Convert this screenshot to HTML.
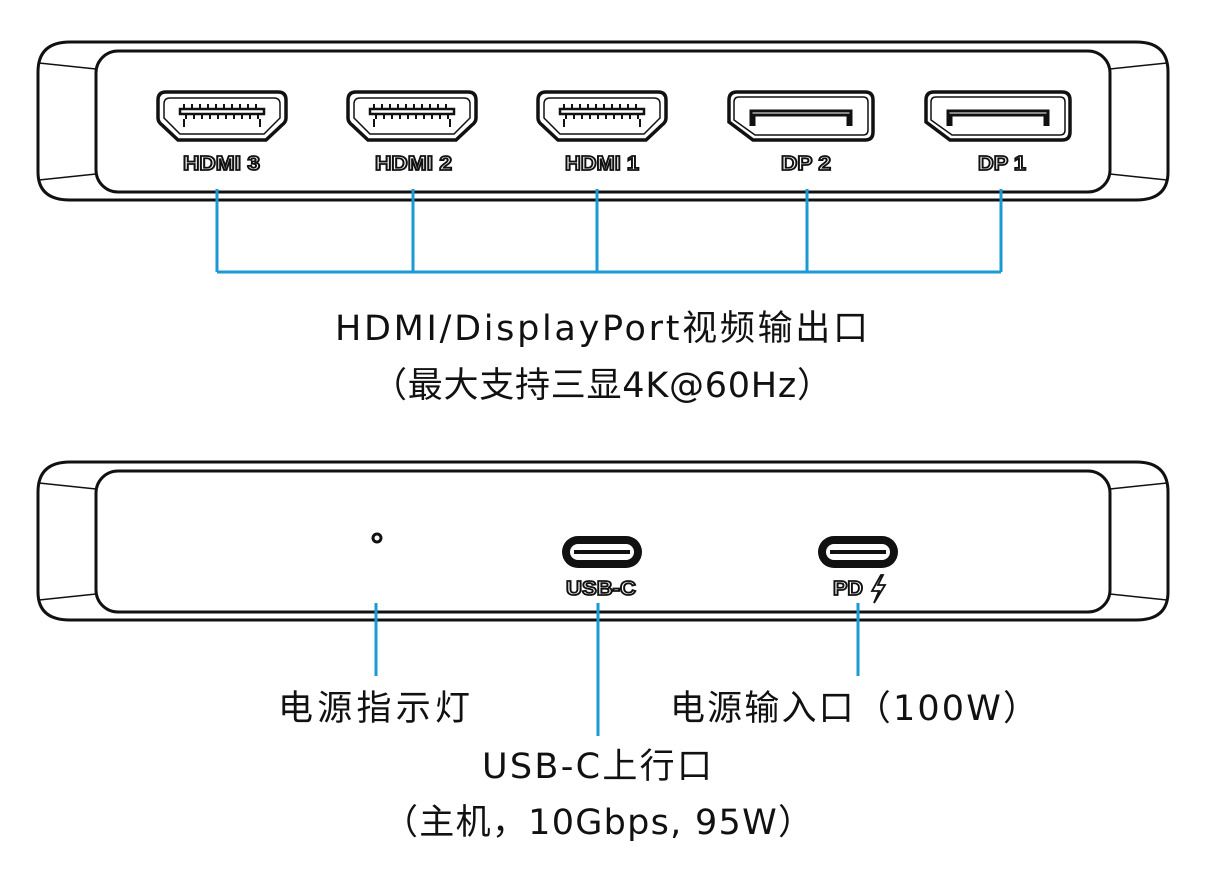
<!DOCTYPE html>
<html><head><meta charset="utf-8"><style>
html,body{margin:0;padding:0;background:#fff}
svg{display:block}
.t{font-family:"DejaVu Sans","Noto Sans CJK SC",sans-serif;fill:#111}
.lb{font-family:"Liberation Sans",sans-serif;font-weight:bold;font-size:20px;fill:#fff;stroke:#111;stroke-width:1.8}
</style></head><body>
<svg width="1208" height="872" viewBox="0 0 1208 872" xmlns="http://www.w3.org/2000/svg">
<defs>
<g id="dev">
  <path d="M70,0 L1136,0 Q1168,0 1168,30 L1168,130 Q1168,158 1136,158 L70,158 Q38,158 38,130 L38,30 Q38,0 70,0 Z" fill="#fff" stroke="#111" stroke-width="3"/>
  <rect x="96" y="9" width="1014" height="141" rx="22" fill="#fff" stroke="#111" stroke-width="3"/>
  <path d="M39,21 L96,27 M39,138 L96,132 M1110,27 L1167,21 M1110,132 L1167,138" stroke="#111" stroke-width="1.5" fill="none"/>
</g>
<g id="hdmi">
  <path d="M-56,-24 L56,-24 Q64,-24 64,-16 L64,2 Q64,6 60,9 L44,24 L-44,24 L-60,9 Q-64,6 -64,2 L-64,-16 Q-64,-24 -56,-24 Z" fill="#fff" stroke="#111" stroke-width="3.5"/>
  <path d="M-52,-18 L52,-18 Q58,-18 58,-12 L58,2 L42,18 L-42,18 L-58,2 L-58,-12 Q-58,-18 -52,-18 Z" fill="none" stroke="#111" stroke-width="1.5"/>
  <rect x="-42" y="-7" width="84" height="5" fill="#fff" stroke="#111" stroke-width="2.5"/>
  <path d="M-38,-7 v-5 M-30,-7 v-5 M-22,-7 v-5 M-14,-7 v-5 M-6,-7 v-5 M2,-7 v-5 M10,-7 v-5 M18,-7 v-5 M26,-7 v-5 M34,-7 v-5 M-36,-2 v5 M-28,-2 v5 M-20,-2 v5 M-12,-2 v5 M-4,-2 v5 M4,-2 v5 M12,-2 v5 M20,-2 v5 M28,-2 v5 M36,-2 v5 M-38,3 v8 M38,3 v8" stroke="#111" stroke-width="2"/>
</g>
<g id="dp">
  <path d="M-64,-24 L64,-24 Q72,-24 72,-16 L72,16 Q72,24 64,24 L-48,24 L-72,6 L-72,-16 Q-72,-24 -64,-24 Z" fill="#fff" stroke="#111" stroke-width="3.5"/>
  <path d="M-62,-19 L62,-19 Q67,-19 67,-14 L67,14 Q67,19 62,19 L-46,19 L-67,4 L-67,-14 Q-67,-19 -62,-19 Z" fill="none" stroke="#111" stroke-width="1.5"/>
  <path d="M-50,10 L-50,-5 L50,-5 L50,10 M-47,10 L-47,-1 L47,-1 L47,10" fill="none" stroke="#111" stroke-width="3"/>
</g>
<g id="usbc">
  <rect x="-40" y="-16" width="80" height="32" rx="16" fill="#111"/>
  <rect x="-32" y="-8" width="64" height="16" rx="8" fill="#fff"/>
  <rect x="-28" y="-2" width="56" height="4" fill="#111"/>
</g>
</defs>

<use href="#dev" y="42"/>
<use href="#dev" y="462"/>

<use href="#hdmi" x="222" y="116"/>
<use href="#hdmi" x="412" y="116"/>
<use href="#hdmi" x="602" y="116"/>
<use href="#dp" x="801" y="116"/>
<use href="#dp" x="998" y="116"/>

<text class="lb" x="183" y="170" textLength="77" lengthAdjust="spacingAndGlyphs">HDMI 3</text>
<text class="lb" x="375" y="170" textLength="77" lengthAdjust="spacingAndGlyphs">HDMI 2</text>
<text class="lb" x="565" y="170" textLength="74" lengthAdjust="spacingAndGlyphs">HDMI 1</text>
<text class="lb" x="781" y="170" textLength="50" lengthAdjust="spacingAndGlyphs">DP 2</text>
<text class="lb" x="978" y="170" textLength="48" lengthAdjust="spacingAndGlyphs">DP 1</text>

<g stroke="#1a9ad6" stroke-width="3" fill="none">
<path d="M217,189 V272 M413,189 V272 M597,189 V272 M807,189 V272 M1001,189 V272 M217,272 H1001"/>
<path d="M376,603 V676 M598,603 V736 M858,603 V676"/>
</g>

<text class="t" x="335" y="340" font-size="35" textLength="533">HDMI/DisplayPort视频输出口</text>
<text class="t" x="372" y="397" font-size="35" textLength="460">（最大支持三显4K@60Hz）</text>

<circle cx="377" cy="538" r="4" fill="#fff" stroke="#111" stroke-width="3"/>
<use href="#usbc" x="602" y="552"/>
<use href="#usbc" x="858" y="552"/>
<text class="lb" x="566" y="595" textLength="70" lengthAdjust="spacingAndGlyphs">USB-C</text>
<text class="lb" x="833" y="595" textLength="30" lengthAdjust="spacingAndGlyphs">PD</text>
<path d="M881,575 L872,591 L879,591 L874,603 L885,585 L878,585 L883,575 Z" fill="#fff" stroke="#111" stroke-width="1.8"/>

<text class="t" x="278" y="720" font-size="35" textLength="192">电源指示灯</text>
<text class="t" x="670" y="720" font-size="35" textLength="368">电源输入口（100W）</text>
<text class="t" x="482" y="778" font-size="35" textLength="230">USB-C上行口</text>
<text class="t" x="383" y="834" font-size="35" textLength="430">（主机，10Gbps, 95W）</text>
</svg>
</body></html>
